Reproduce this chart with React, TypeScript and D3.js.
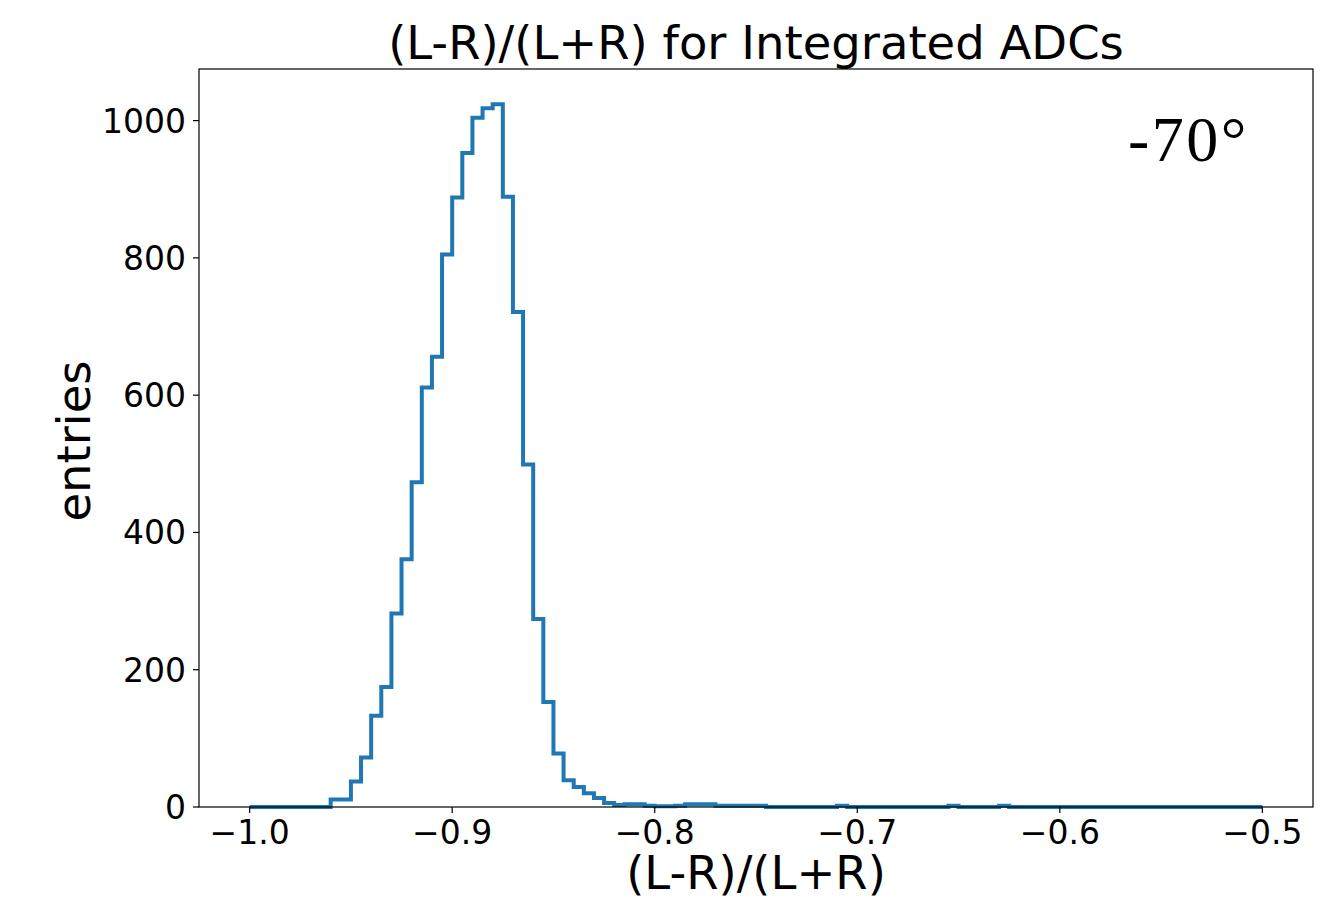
import * as d3 from "d3";

// histogram: 100 bins over [-1.0, -0.5]
const binStart = -1.0;
const binEnd = -0.5;
const counts = [
  0, 0, 0, 0, 0, 0, 0, 0, 11, 11,
  37, 72, 133, 175, 282, 361, 473, 611, 656, 805,
  888, 953, 1004, 1018, 1024, 889, 721, 499, 274, 153,
  78, 39, 29, 20, 13, 6, 3, 4, 4, 2,
  1, 1, 2, 4, 4, 4, 2, 2, 2, 2,
  2, 0, 0, 0, 0, 0, 0, 0, 2, 0,
  0, 0, 0, 0, 0, 0, 0, 0, 0, 2,
  0, 0, 0, 0, 2, 0, 0, 0, 0, 0,
  0, 0, 0, 0, 0, 0, 0, 0, 0, 0,
  0, 0, 0, 0, 0, 0, 0, 0, 0, 0,
];
const xTicks = [-1.0, -0.9, -0.8, -0.7, -0.6, -0.5];
const yTicks = [0, 200, 400, 600, 800, 1000];

const title = "(L-R)/(L+R) for Integrated ADCs";
const xLabel = "(L-R)/(L+R)";
const yLabel = "entries";
const note = "-70°";

export default function App() {
  const width = 1338;
  const height = 900;
  const margin = { top: 69, right: 25, bottom: 93, left: 199 };
  const innerW = width - margin.left - margin.right;
  const innerH = height - margin.top - margin.bottom;

  const pad = (binEnd - binStart) * 0.05;
  const x = d3.scaleLinear([binStart - pad, binEnd + pad], [0, innerW]);
  const ymax = d3.max(counts)! * 1.05;
  const y = d3.scaleLinear([0, ymax], [innerH, 0]);

  const n = counts.length;
  const step = (binEnd - binStart) / n;
  const edges = d3.range(n + 1).map((i) => binStart + i * step);

  const pts: [number, number][] = [[edges[0], 0]];
  counts.forEach((c, i) => {
    pts.push([edges[i], c]);
    pts.push([edges[i + 1], c]);
  });
  pts.push([edges[n], 0]);

  const line = d3
    .line<[number, number]>()
    .x((d) => x(d[0]))
    .y((d) => y(d[1]));

  const fmt = (v: number) => d3.format(".1f")(v).replace("-", "\u2212");
  const font = "'DejaVu Sans', sans-serif";

  return (
    <svg
      width={width}
      height={height}
      style={{ position: "absolute", left: 0, top: 0, background: "#fff" }}
    >
      <text
        x={margin.left + innerW / 2}
        y={59}
        textAnchor="middle"
        fontFamily={font}
        fontSize={46.5}
      >
        {title}
      </text>
      <g transform={`translate(${margin.left},${margin.top})`}>
        <path
          d={line(pts)!}
          fill="none"
          stroke="#1f77b4"
          strokeWidth={4}
          strokeLinejoin="miter"
        />
        <rect
          x={0}
          y={0}
          width={innerW}
          height={innerH}
          fill="none"
          stroke="#000"
          strokeWidth={1.2}
        />
        {xTicks.map((t) => (
          <g key={t} transform={`translate(${x(t)},${innerH})`}>
            <line y2={6} stroke="#000" strokeWidth={1.2} />
            <text
              y={37}
              textAnchor="middle"
              fontFamily={font}
              fontSize={33}
            >
              {fmt(t)}
            </text>
          </g>
        ))}
        {yTicks.map((t) => (
          <g key={t} transform={`translate(0,${y(t)})`}>
            <line x2={-6} stroke="#000" strokeWidth={1.2} />
            <text
              x={-13}
              dy="0.36em"
              textAnchor="end"
              fontFamily={font}
              fontSize={33}
            >
              {t}
            </text>
          </g>
        ))}
        <text
          x={929}
          y={92}
          fontFamily="'Liberation Serif', serif"
          fontSize={64}
          letterSpacing={2.5}
        >
          {note}
        </text>
      </g>
      <text
        x={margin.left + innerW / 2}
        y={889}
        textAnchor="middle"
        fontFamily={font}
        fontSize={46.5}
      >
        {xLabel}
      </text>
      <text
        transform={`translate(90,${margin.top + innerH / 2 + 3}) rotate(-90)`}
        textAnchor="middle"
        fontFamily={font}
        fontSize={46.5}
      >
        {yLabel}
      </text>
    </svg>
  );
}
